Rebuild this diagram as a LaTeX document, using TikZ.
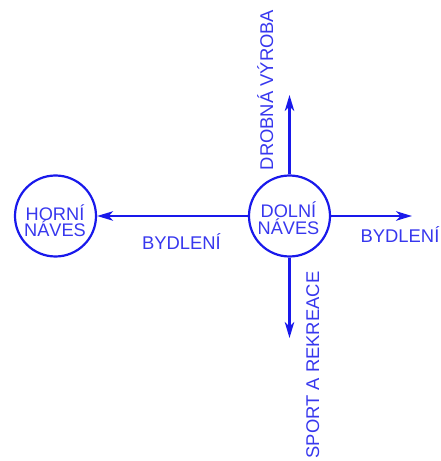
\documentclass[tikz,border=0pt]{standalone}
\usepackage{fontspec}
\setmainfont{Liberation Sans}
\usetikzlibrary{arrows.meta}
\definecolor{lineblue}{RGB}{25,25,235}
\definecolor{textblue}{RGB}{55,55,238}
\begin{document}
\begin{tikzpicture}[x=1pt,y=1pt,
  village/.style={circle,draw=lineblue,line width=2.2pt,minimum size=81pt,inner sep=0pt},
  vtext/.style={text=textblue,font=\fontsize{18.2}{16.5}\selectfont,align=center,inner sep=0pt},
  label/.style={text=textblue,font=\fontsize{18.4}{18}\selectfont,inner sep=0pt},
  link/.style={draw=lineblue,line width=2.2pt,-{Stealth[length=16pt,width=9.5pt,inset=4.5pt]}}]
\useasboundingbox (0,0) rectangle (440,461);
% the two villages
\node[village] (horni) at (55.5,245) {};
\node[village] (dolni) at (289.5,245) {};
\node[vtext] (horniT) at (55,240.5) {HORNÍ\\NÁVES};
\node[vtext,font=\fontsize{18.2}{17}\selectfont] (dolniT) at (288.5,243) {DOLNÍ\\NÁVES};
% arrow ends
\coordinate (east) at (412,245);
\coordinate (north) at (289.5,366);
\coordinate (south) at (289.5,123);
% connectors
\draw[link] (dolni.west) -- (horni.east);
\draw[link] (dolni.east) -- (east);
\draw[link] (dolni.north) -- (north);
\draw[link] (dolni.south) -- (south);
% labels
\node[label,anchor=base] (lblW) at (181.5,211) {BYDLENÍ};
\node[label,anchor=base] (lblE) at (400,218) {BYDLENÍ};
\node[label,anchor=base,rotate=90] (lblN) at (273,371) {DROBNÁ VÝROBA};
\node[label,anchor=base,rotate=90] (lblS) at (319,96) {SPORT A REKREACE};
\end{tikzpicture}
\end{document}
